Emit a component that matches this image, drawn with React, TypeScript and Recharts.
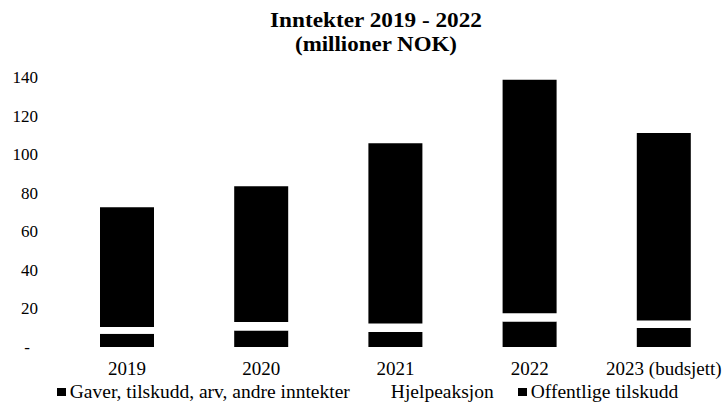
import React from 'react';
import { BarChart, Bar, XAxis, YAxis, Legend } from 'recharts';

const years = ['2019', '2020', '2021', '2022', '2023 (budsjett)'];
const gaver = [6.9, 8.6, 7.8, 13.2, 9.8];
const hjelpeaksjon = [3.5, 4.3, 4.4, 4.3, 3.9];
const offentlige = [62.0, 70.5, 93.5, 121.1, 97.2];
const yTicks = [0, 20, 40, 60, 80, 100, 120, 140];

const seriesNames = ['Gaver, tilskudd, arv, andre inntekter', 'Hjelpeaksjon', 'Offentlige tilskudd'];
const seriesColors = ['#000000', '#ffffff', '#000000'];

const data = years.map((y, i) => ({
  year: y,
  gaver: gaver[i],
  hjelp: hjelpeaksjon[i],
  off: offentlige[i],
}));

const FONT = '"Liberation Serif", "Times New Roman", serif';

const YTick = (props: any) => {
  const { x, y, payload } = props;
  if (payload.value === 0) {
    return (
      <text x={x - 8} y={y} dy="0.35em" textAnchor="end" fontFamily={FONT} fontSize={17} fill="#000">-</text>
    );
  }
  return (
    <text x={x} y={y} dy="0.35em" textAnchor="end" fontFamily={FONT} fontSize={17} fill="#000">{payload.value}</text>
  );
};

const XTick = (props: any) => {
  const { x, y, payload } = props;
  return (
    <text x={x} y={y} dy="0.71em" textAnchor="middle" fontFamily={FONT} fontSize={19} fill="#000">{payload.value}</text>
  );
};

const LegendContent = () => (
  <div style={{ display: 'flex', justifyContent: 'center', alignItems: 'center', height: 22, lineHeight: '20px', boxSizing: 'border-box', paddingTop: 2, paddingLeft: 4, fontFamily: FONT, fontSize: 19.5, color: '#000', whiteSpace: 'nowrap' }}>
    {seriesNames.map((n, i) => (
      <div key={n} style={{ display: 'flex', alignItems: 'center', marginRight: i === 0 ? 28 : i === 1 ? 24 : 0 }}>
        <span style={{ display: 'inline-block', width: 9, height: 8, background: seriesColors[i], marginRight: 4 }} />
        <span>{n}</span>
      </div>
    ))}
  </div>
);

export default function App() {
  return (
    <div style={{ position: 'absolute', left: 0, top: 0, width: 723, height: 402, overflow: 'hidden', background: '#fff' }}>
      <BarChart width={752} height={402} data={data} margin={{ top: 77, right: 21, left: 0, bottom: 0 }}>
        <XAxis dataKey="year" axisLine={false} tickLine={false} tickSize={0} tickMargin={15} height={33} tick={<XTick />} interval={0} />
        <YAxis domain={[0, 140]} ticks={yTicks} axisLine={false} tickLine={false} tickSize={0} tickMargin={22} width={60} tick={<YTick />} interval={0} />
        <Legend verticalAlign="bottom" height={22} content={<LegendContent />} />
        <Bar dataKey="gaver" name={seriesNames[0]} stackId="a" fill={seriesColors[0]} barSize={54} isAnimationActive={false} />
        <Bar dataKey="hjelp" name={seriesNames[1]} stackId="a" fill={seriesColors[1]} barSize={54} isAnimationActive={false} />
        <Bar dataKey="off" name={seriesNames[2]} stackId="a" fill={seriesColors[2]} barSize={54} isAnimationActive={false} />
      </BarChart>
      <svg width={752} height={60} style={{ position: 'absolute', left: 0, top: 0 }}>
        <text x={376} y={27} textAnchor="middle" fontFamily={FONT} fontWeight="bold" fontSize={21} textLength={212} lengthAdjust="spacingAndGlyphs" fill="#000">Inntekter 2019 - 2022</text>
        <text x={376} y={51} textAnchor="middle" fontFamily={FONT} fontWeight="bold" fontSize={21} textLength={162} lengthAdjust="spacingAndGlyphs" fill="#000">(millioner NOK)</text>
      </svg>
    </div>
  );
}
